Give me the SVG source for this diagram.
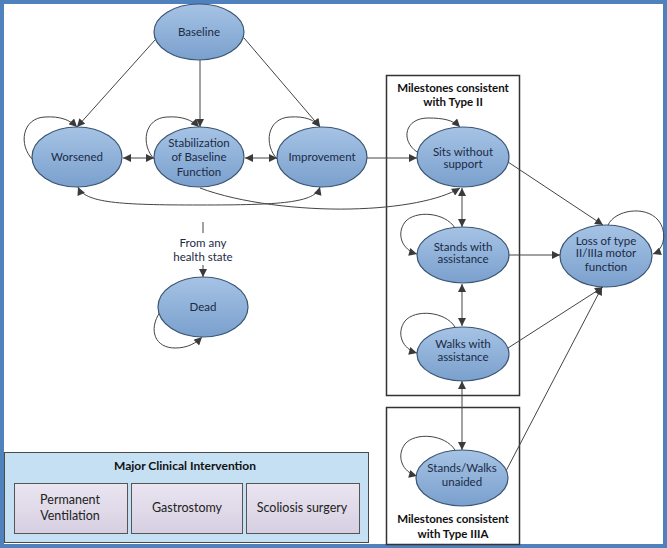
<svg xmlns="http://www.w3.org/2000/svg" width="667" height="548" viewBox="0 0 667 548">
<defs>
<linearGradient id="eg" x1="0" y1="0" x2="0" y2="1">
<stop offset="0" stop-color="#A6C3E5"/>
<stop offset="1" stop-color="#7AA0CD"/>
</linearGradient>
<linearGradient id="bg" x1="0" y1="0" x2="0" y2="1">
<stop offset="0" stop-color="#EAE5F0"/>
<stop offset="1" stop-color="#D6CFE2"/>
</linearGradient>
<marker id="ah" viewBox="0 0 10 10" refX="10" refY="5" markerWidth="9" markerHeight="8" markerUnits="userSpaceOnUse" orient="auto-start-reverse">
<path d="M0,0 L10,5 L0,10 Z" fill="#3A3A3A"/>
</marker>
</defs>
<style>
.node ellipse{fill:url(#eg);stroke:#3B5573;stroke-width:1.2}
text{font-family:Lato,"Liberation Sans",sans-serif;font-size:11.5px;fill:#1B2A45;text-anchor:middle}
.b{font-weight:bold;fill:#111}
.s{font-size:12.5px;fill:#222}
.c path{fill:none;stroke:#444;stroke-width:1}
.e{marker-end:url(#ah)}
.d{marker-start:url(#ah);marker-end:url(#ah)}
.box{fill:none;stroke:#333;stroke-width:1.5}
.sub{fill:url(#bg);stroke:#555;stroke-width:1}
</style>
<rect x="0" y="0" width="667" height="548" fill="#FFFFFF"/>
<rect x="2" y="2" width="663" height="544" fill="none" stroke="#4F81BD" stroke-width="4"/>

<g id="box-type2"><rect class="box" x="386.5" y="75.5" width="133" height="320"/>
<text class="b" x="453" y="92">Milestones consistent</text>
<text class="b" x="453" y="106">with Type II</text></g>
<g id="box-type3a"><rect class="box" x="386.5" y="407.5" width="133" height="137"/>
<text class="b" x="453" y="523">Milestones consistent</text>
<text class="b" x="453" y="538">with Type IIIA</text></g>

<g id="intervention">
<rect x="4.5" y="452.5" width="364" height="90" fill="#C5DFF3" stroke="#4A4A4A" stroke-width="1"/>
<text class="b" x="185" y="470" style="font-size:12px">Major Clinical Intervention</text>
<g id="ventilation"><rect class="sub" x="14.5" y="483.5" width="113" height="50"/>
<text class="s" x="70" y="504">Permanent</text><text class="s" x="70" y="520">Ventilation</text></g>
<g id="gastrostomy"><rect class="sub" x="131.5" y="483.5" width="111" height="50"/>
<text class="s" x="187" y="512">Gastrostomy</text></g>
<g id="scoliosis"><rect class="sub" x="246.5" y="483.5" width="113" height="50"/>
<text class="s" x="302" y="512">Scoliosis surgery</text></g>
</g>

<g class="c" id="connectors">
<path class="e" d="M155,40 L77,127"/>
<path class="e" d="M200,60 L200,127"/>
<path class="e" d="M244,38 L320,127"/>
<path class="d" d="M123,158 L154,158"/>
<path class="d" d="M245,158 L277,158"/>
<path class="e" d="M367,158 L417,158"/>
<path class="d" d="M78,187 C85,203 120,205 200,205 C280,205 315,203 320,187"/>
<path class="e" d="M200,188 C240,203 300,210 350,209 C400,208 440,200 460,188"/>
<path class="d" d="M462,188 L462,227"/>
<path class="d" d="M462,284 L462,326"/>
<path class="d" d="M462,381 L462,450"/>
<path class="e" d="M508,162 L603,225"/>
<path class="e" d="M509,255 L560,255"/>
<path class="e" d="M508,348 L603,287"/>
<path class="e" d="M506,471 L602,287"/>
<path d="M203,222 L203,233"/>
<path class="e" d="M203,265 L203,277"/>
<path class="e" d="M33,160 C18,145 22,118 45,117 C60,116 70,120 77,127"/>
<path class="e" d="M155,160 C140,145 144,118 167,117 C182,116 192,120 199,127"/>
<path class="e" d="M278,160 C263,145 267,118 290,117 C305,116 315,120 320,127"/>
<path class="e" d="M417,152 C400,140 405,118 428,118 C443,118 453,120 460,127"/>
<path class="e" d="M455,228 C445,212 415,210 405,222 C396,234 402,250 417,254"/>
<path class="e" d="M455,327 C445,311 415,309 405,321 C396,333 402,349 417,353"/>
<path class="e" d="M455,450 C445,434 415,432 405,444 C396,456 402,472 417,476"/>
<path class="e" d="M608,225 C615,210 645,205 658,220 C668,232 664,250 653,254"/>
<path class="e" d="M160,312 C148,330 155,348 175,348 C188,348 196,343 202,337"/>
</g>

<g class="node" id="baseline"><ellipse cx="199" cy="32" rx="45" ry="28"/><text x="199" y="36">Baseline</text></g>
<g class="node" id="worsened"><ellipse cx="77" cy="157" rx="45" ry="30"/><text x="77" y="161">Worsened</text></g>
<g class="node" id="stabilization"><ellipse cx="199" cy="157" rx="45" ry="30"/>
<text x="199" y="147">Stabilization</text><text x="199" y="161">of Baseline</text><text x="199" y="176">Function</text></g>
<g class="node" id="improvement"><ellipse cx="322" cy="157" rx="45" ry="30"/><text x="322" y="161">Improvement</text></g>
<g class="node" id="sits"><ellipse cx="463" cy="157" rx="46" ry="30"/>
<text x="463" y="156">Sits without</text><text x="463" y="168">support</text></g>
<g class="node" id="stands"><ellipse cx="463" cy="255" rx="46" ry="28"/>
<text x="463" y="251">Stands with</text><text x="463" y="263">assistance</text></g>
<g class="node" id="walks"><ellipse cx="463" cy="354" rx="46" ry="27"/>
<text x="463" y="348">Walks with</text><text x="463" y="361">assistance</text></g>
<g class="node" id="unaided"><ellipse cx="462" cy="478" rx="46" ry="28"/>
<text x="462" y="472">Stands/Walks</text><text x="462" y="486">unaided</text></g>
<g class="node" id="loss"><ellipse cx="606" cy="256" rx="46" ry="31"/>
<text x="606" y="245">Loss of type</text><text x="606" y="257">II/IIIa motor</text><text x="606" y="271">function</text></g>
<g class="node" id="dead"><ellipse cx="203" cy="307" rx="45" ry="30"/><text x="203" y="311">Dead</text></g>
<g id="from-label"><text x="203" y="247">From any</text><text x="203" y="261">health state</text></g>
</svg>
